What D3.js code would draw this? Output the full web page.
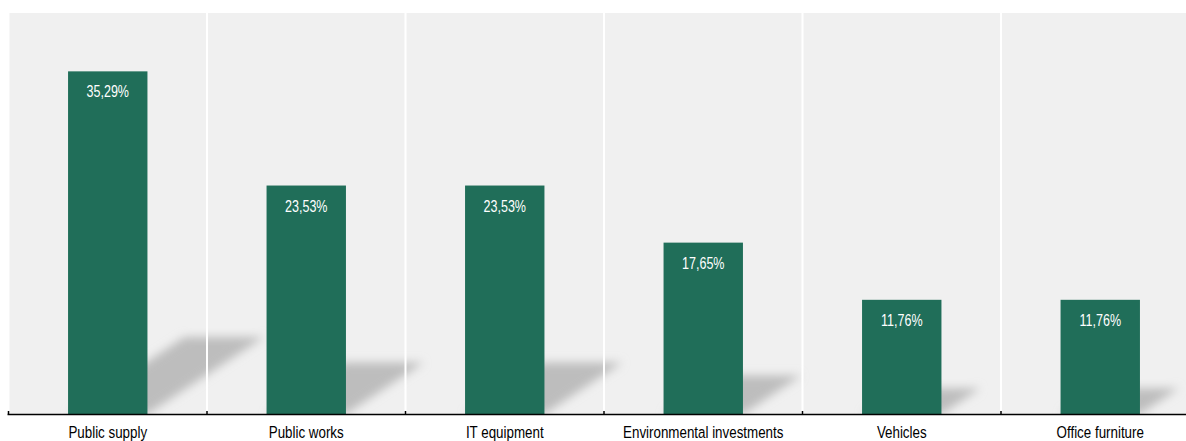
<!DOCTYPE html>
<html>
<head>
<meta charset="utf-8">
<script src="https://cdn.jsdelivr.net/npm/d3@7"></script>
<style>
  body { margin: 0; background: #fff; }
  svg { display: block; }
</style>
</head>
<body>
<div id="chartDiv"></div>
<script>
var categories = ["Public supply", "Public works", "IT equipment", "Environmental investments", "Vehicles", "Office furniture"];
var values = [35.29, 23.53, 23.53, 17.65, 11.76, 11.76];
var valueLabels = ["35,29%", "23,53%", "23,53%", "17,65%", "11,76%", "11,76%"];

var width = 1186, height = 441;
var plot = { left: 8.5, right: 1199.5, top: 13, bottom: 414 };
// no narrow font installed, squeeze Liberation Sans instead
var narrowValue = 0.76, narrowLabel = 0.81;

var data = categories.map(function(c, i) {
	return { name: c, value: values[i], label: valueLabels[i] };
});

var svg = d3.select("#chartDiv")
  .append("svg")
    .attr("width", width)
    .attr("height", height);

// blur for the fake shadows
var defs = svg.append("defs");
defs.append("filter")
    .attr("id", "shadowBlur")
    .attr("x", "-50%").attr("y", "-50%")
    .attr("width", "200%").attr("height", "200%")
  .append("feGaussianBlur")
    .attr("stdDeviation", 5);
defs.append("clipPath")
    .attr("id", "plotClip")
  .append("rect")
    .attr("x", plot.left).attr("y", plot.top)
    .attr("width", width - plot.left).attr("height", plot.bottom - plot.top);

var x = d3.scaleBand()
    .domain(categories)
    .range([plot.left, plot.right])
    .paddingInner(0.6)
    .paddingOuter(0.3);

var y = d3.scaleLinear()
    .domain([0, 41.3])
    .range([plot.bottom, plot.top]);

var step = x.step();

// background
svg.append("rect")
    .attr("x", plot.left + 1)
    .attr("y", plot.top)
    .attr("width", width - plot.left - 1)
    .attr("height", plot.bottom - plot.top)
    .attr("fill", "#f0f0f0");

var g = svg.append("g").attr("clip-path", "url(#plotClip)");

// shadows, projected up-right from the bar base
g.append("g")
  .selectAll("polygon")
  .data(data)
  .enter()
  .append("polygon")
    .attr("points", function(d) {
    	var h = y(0) - y(d.value);
    	var x0 = x(d.name), x1 = x(d.name) + x.bandwidth();
    	var dx = 0.34 * h, dy = 0.225 * h;
    	return [[x0, y(0)], [x1, y(0)], [x1 + dx, y(0) - dy], [x0 + dx, y(0) - dy]].join(" ");
    })
    .attr("fill", "#bdbdbd")
    .attr("filter", "url(#shadowBlur)");

// white separators between categories
g.append("g")
  .selectAll("line")
  .data(categories.slice(0, -1))
  .enter()
  .append("line")
    .attr("x1", function(d) { return x(d) + x.bandwidth() / 2 + step / 2; })
    .attr("x2", function(d) { return x(d) + x.bandwidth() / 2 + step / 2; })
    .attr("y1", plot.top)
    .attr("y2", plot.bottom)
    .attr("stroke", "#ffffff")
    .attr("stroke-width", 2);

// bars
g.append("g")
  .selectAll("rect")
  .data(data)
  .enter()
  .append("rect")
    .attr("x", function(d) { return x(d.name); })
    .attr("y", function(d) { return y(d.value); })
    .attr("width", x.bandwidth())
    .attr("height", function(d) { return y(0) - y(d.value); })
    .attr("fill", "#206e59");

// value labels inside bars
svg.append("g")
  .selectAll("text")
  .data(data)
  .enter()
  .append("text")
    .attr("transform", function(d) {
    	return "translate(" + (x(d.name) + x.bandwidth() / 2) + "," + (y(d.value) + 26) + ") scale(" + narrowValue + ",1)";
    })
    .attr("text-anchor", "middle")
    .attr("fill", "#ffffff")
    .style("font-family", "'Liberation Sans', Arial, sans-serif")
    .style("font-size", "16.5px")
    .text(function(d) { return d.label; });

// bottom axis: labels
var xAxis = svg.append("g")
    .attr("transform", "translate(0," + plot.bottom + ")")
    .call(d3.axisBottom(x).tickSize(0).tickPadding(12));
xAxis.select(".domain").remove();
xAxis.selectAll("text")
    .attr("fill", "#000")
    .attr("transform", "scale(" + narrowLabel + ",1)")
    .style("font-family", "'Liberation Sans', Arial, sans-serif")
    .style("font-size", "16.5px");

// baseline and small upward ticks on category boundaries
svg.append("line")
    .attr("x1", plot.left - 1)
    .attr("x2", width)
    .attr("y1", plot.bottom + 0.5)
    .attr("y2", plot.bottom + 0.5)
    .attr("stroke", "#000")
    .attr("stroke-width", 1.5);

var boundaries = [plot.left].concat(categories.slice(0, -1).map(function(d) { return x(d) + x.bandwidth() / 2 + step / 2; }));
svg.append("g")
  .selectAll("line")
  .data(boundaries)
  .enter()
  .append("line")
    .attr("x1", function(d) { return d; })
    .attr("x2", function(d) { return d; })
    .attr("y1", plot.bottom - 3)
    .attr("y2", plot.bottom)
    .attr("stroke", "#000")
    .attr("stroke-width", 1.5);
</script>
</body>
</html>
